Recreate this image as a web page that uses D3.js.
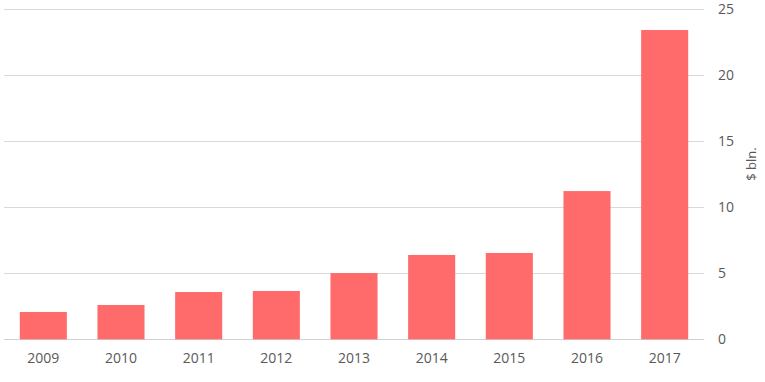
<!DOCTYPE html>
<html><head><meta charset="utf-8">
<script src="https://cdn.jsdelivr.net/npm/d3@7"></script>
<style>body{margin:0;background:#fff}svg{display:block}</style>
</head><body>
<svg id="c" width="765" height="382"></svg>
<script>
const years = ["2009","2010","2011","2012","2013","2014","2015","2016","2017"];
const values = [2.07, 2.6, 3.58, 3.66, 5.02, 6.39, 6.54, 11.23, 23.43];
const yTicks = [0, 5, 10, 15, 20, 25];
const axisTitle = "$ bln.";

const svg = d3.select("#c");
const x = d3.scaleBand().domain(years).range([4.5, 703.5]).paddingInner(0.394).paddingOuter(0.197);
const y = d3.scaleLinear().domain([0, 25]).range([339.3, 9.3]);
const font = "'Open Sans', 'Segoe UI', sans-serif";

// gridlines
svg.append("g").selectAll("line").data(yTicks).join("line")
  .attr("x1", 4).attr("x2", 704)
  .attr("y1", d => Math.round(y(d)) + 0.5).attr("y2", d => Math.round(y(d)) + 0.5)
  .attr("stroke", d => d === 0 ? "#d0d0d0" : "#d9d9d9").attr("stroke-width", 1);

// bars
svg.append("g").selectAll("rect").data(years).join("rect")
  .attr("x", d => x(d)).attr("width", x.bandwidth())
  .attr("y", (d, i) => y(values[i])).attr("height", (d, i) => y(0) - y(values[i]))
  .attr("fill", "#ff6b6b");

// right axis
const yAxis = svg.append("g").attr("transform", "translate(704,0)")
  .call(d3.axisRight(y).tickValues(yTicks).tickSize(0).tickPadding(14));
yAxis.select(".domain").remove();
yAxis.selectAll("text").attr("font-family", font).attr("font-size", 14).attr("fill", "#595959");

// bottom axis
const xAxis = svg.append("g").attr("transform", "translate(0,339)")
  .call(d3.axisBottom(x).tickSize(0).tickPadding(14));
xAxis.select(".domain").remove();
xAxis.selectAll("text").attr("font-family", font).attr("font-size", 14).attr("fill", "#595959");

// axis title
svg.append("text").attr("transform", "translate(756,164) rotate(-90)")
  .attr("text-anchor", "middle").attr("font-family", font).attr("font-size", 13)
  .attr("fill", "#595959").text(axisTitle);
</script>
</body></html>
